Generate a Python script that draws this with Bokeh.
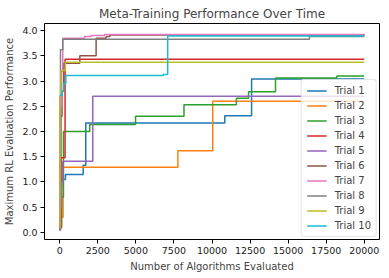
from bokeh.plotting import figure
from bokeh.models import Range1d, FixedTicker, Legend, LegendItem, CustomJSTickFormatter
from bokeh.embed import file_html
from bokeh.resources import INLINE

title = "Meta-Training Performance Over Time"
xlabel = "Number of Algorithms Evaluated"
ylabel = "Maximum RL Evaluation Performance"

x_ticks = [0, 2500, 5000, 7500, 10000, 12500, 15000, 17500, 20000]
y_ticks = [0.0, 0.5, 1.0, 1.5, 2.0, 2.5, 3.0, 3.5, 4.0]

trial1_x = [0, 50, 120, 180, 375, 1540, 1710, 10840, 12600, 20000]
trial1_y = [0.5, 0.9, 1.01, 1.05, 1.15, 1.33, 2.17, 2.31, 3.04, 3.04]
trial2_x = [0, 30, 220, 7760, 10050, 20000]
trial2_y = [0.08, 0.3, 1.29, 1.62, 2.6, 2.6]
trial3_x = [0, 130, 245, 1970, 4980, 8160, 11600, 12400, 14170, 18200, 20000]
trial3_y = [0.1, 0.7, 2.0, 2.14, 2.3, 2.53, 2.66, 2.79, 3.06, 3.1, 3.1]
trial4_x = [0, 90, 350, 20000]
trial4_y = [0.1, 1.48, 3.43, 3.43]
trial5_x = [0, 60, 120, 200, 2170, 20000]
trial5_y = [0.05, 0.5, 1.0, 1.41, 2.7, 2.7]
trial6_x = [0, 30, 80, 150, 260, 1320, 2390, 3050, 3300, 20000]
trial6_y = [0.05, 1.5, 2.3, 2.8, 3.35, 3.5, 3.85, 3.88, 3.91, 3.92]
trial7_x = [0, 40, 120, 200, 1630, 2070, 2940, 20000]
trial7_y = [0.05, 2.5, 3.2, 3.85, 3.88, 3.9, 3.92, 3.93]
trial8_x = [0, 20, 50, 200, 16400, 20000]
trial8_y = [0.05, 2.7, 3.62, 3.83, 3.88, 3.88]
trial9_x = [0, 20, 60, 370, 20000]
trial9_y = [0.1, 2.7, 3.21, 3.37, 3.37]
trial10_x = [0, 150, 250, 400, 6800, 7090, 20000]
trial10_y = [2.72, 2.8, 2.95, 3.11, 3.13, 3.89, 3.89]

names = ["Trial %d" % i for i in range(1, 11)]
xs = [trial1_x, trial2_x, trial3_x, trial4_x, trial5_x, trial6_x, trial7_x, trial8_x, trial9_x, trial10_x]
ys = [trial1_y, trial2_y, trial3_y, trial4_y, trial5_y, trial6_y, trial7_y, trial8_y, trial9_y, trial10_y]
colors = ["#1f77b4", "#ff7f0e", "#2ca02c", "#d62728", "#9467bd",
          "#8c564b", "#e377c2", "#7f7f7f", "#bcbd22", "#17becf"]

FONT = "DejaVu Sans"

p = figure(width=389, height=278, output_backend="svg", toolbar_location=None,
           x_range=Range1d(-1000, 21000), y_range=Range1d(-0.14, 4.14),
           min_border_left=44, min_border_right=10, min_border_top=23, min_border_bottom=39)
p.title.text = title
p.title.text_font = FONT
p.title.text_font_size = "12px"
p.title.text_font_style = "normal"
p.title.align = "center"
p.title.offset = 0
p.title.standoff = 6
p.background_fill_color = "white"
p.border_fill_color = "white"
p.outline_line_color = "black"
p.outline_line_width = 1
p.grid.visible = False

for ax in (p.xaxis, p.yaxis):
    ax.axis_line_color = None
    ax.major_tick_in = 0
    ax.major_tick_out = 4
    ax.minor_tick_line_color = None
    ax.major_label_text_font = FONT
    ax.major_label_text_font_size = "9.5px"
    ax.major_label_text_color = "#222222"
    ax.axis_label_text_font = FONT
    ax.axis_label_text_font_size = "10px"
    ax.axis_label_text_font_style = "normal"
    ax.major_label_standoff = 3
    ax.axis_label_standoff = 4

p.xaxis.axis_label = xlabel
p.yaxis.axis_label = ylabel
p.xaxis.ticker = FixedTicker(ticks=x_ticks)
p.yaxis.ticker = FixedTicker(ticks=y_ticks)
p.xaxis.formatter = CustomJSTickFormatter(code="return tick.toFixed(0);")
p.yaxis.formatter = CustomJSTickFormatter(code="return tick.toFixed(1);")

items = []
for name, x, y, c in zip(names, xs, ys, colors):
    r = p.step(x, y, mode="after", line_color=c, line_width=1.5)
    items.append(LegendItem(label=name, renderers=[r]))

legend = Legend(items=items, location="bottom_right")
legend.label_text_font = FONT
legend.label_text_font_size = "10px"
legend.label_height = 11
legend.glyph_height = 11
legend.glyph_width = 20
legend.spacing = 4
legend.padding = 5
legend.margin = 2
legend.border_line_color = "#cccccc"
legend.border_radius = 3
legend.background_fill_alpha = 0.8
legend.label_standoff = 8
p.add_layout(legend)

open("out.html", "w").write(file_html(p, INLINE))
